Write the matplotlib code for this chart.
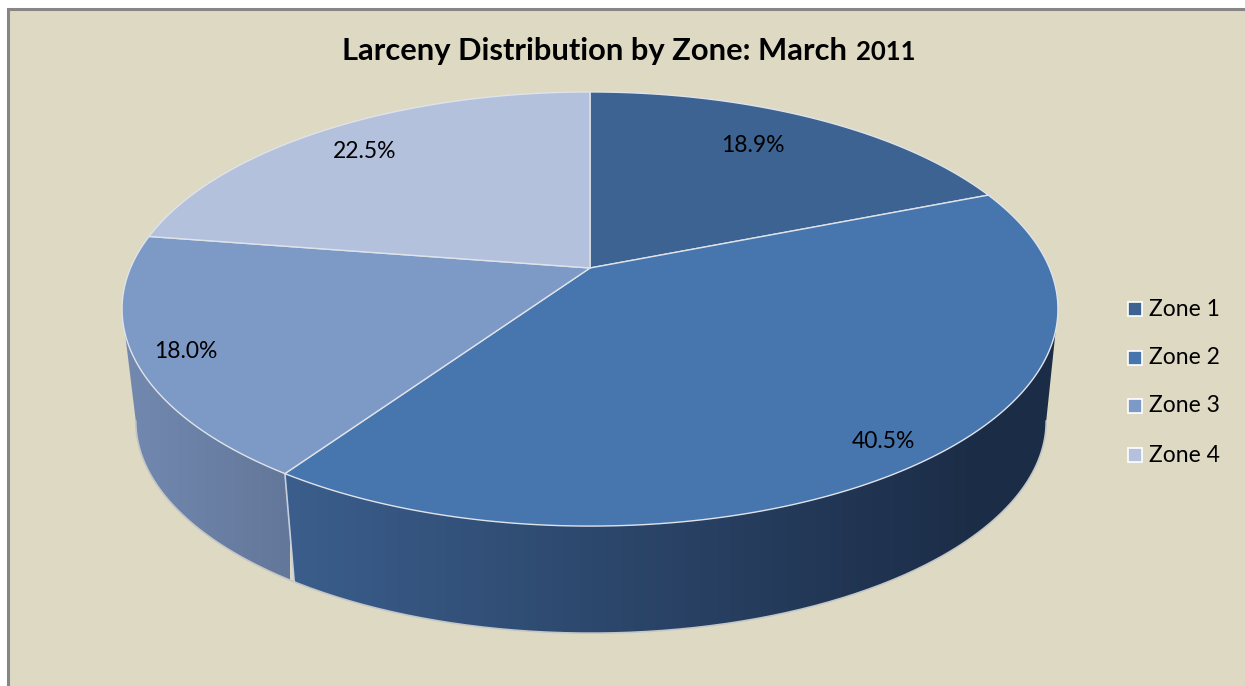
import numpy as np
import matplotlib
matplotlib.use('Agg')
import matplotlib.pyplot as plt
from matplotlib.patches import Polygon, Rectangle
from matplotlib.colors import LinearSegmentedColormap

plt.rcParams['font.family'] = ['Lato', 'Open Sans', 'DejaVu Sans']

# Data
zones = ['Zone 1', 'Zone 2', 'Zone 3', 'Zone 4']
values = [18.9, 40.5, 18.0, 22.5]
top_colors = ['#3c6391', '#4775ae', '#7d99c6', '#b3c1dc']
title_main = 'Larceny Distribution by Zone: March'
title_year = '2011'

BG = '#ddd9c3'
RIM = '#dfe3ea'

fig = plt.figure(figsize=(12.45, 6.86), dpi=100, facecolor='white')
ax = fig.add_axes([0, 0, 1, 1])
ax.set_xlim(0, 1245)
ax.set_ylim(686, 0)
ax.axis('off')

# chart area with grey frame
ax.add_patch(Rectangle((8, 9), 1240, 680, facecolor=BG, edgecolor='#868686', linewidth=2.2, zorder=0))

# perspective disc, angle clockwise from 12 o'clock
K = 0.189


def project(theta, cx, cy, bx, ay):
    u, v = np.sin(theta), np.cos(theta)
    d = 1 + K * v
    return cx + bx * u / d, cy - ay * v / d


def top_xy(theta):
    return project(theta, 590, 268, 459.5, 209.3)


def bottom_xy(theta):
    return project(theta, 591, 381, 447, 204.5)


fractions = np.array(values) / sum(values)
edges = np.concatenate([[0], np.cumsum(fractions)]) * 2 * np.pi

# where the rim is widest, the side wall ends there
right_t = np.arccos(-K)
left_t = 2 * np.pi - right_t


def wall(t0, t1, c_left, c_right, x0, x1, stop):
    th = np.linspace(t0, t1, 200)
    xt, yt = top_xy(th)
    xb, yb = bottom_xy(th)
    pts = np.vstack([np.column_stack([xt, yt]), np.column_stack([xb, yb])[::-1]])
    poly = Polygon(pts, closed=True, facecolor='none', edgecolor='none', zorder=1)
    ax.add_patch(poly)
    cmap = LinearSegmentedColormap.from_list('w', [(0, c_left), (stop, c_right), (1, c_right)])
    im = ax.imshow(np.linspace(0, 1, 256)[None, :], extent=[x0, x1, 686, 0], cmap=cmap,
                   aspect='auto', zorder=1.2)
    im.set_clip_path(poly)
    # pale silhouette
    ax.plot(xb, yb, color='#c4c6c6', lw=1.2, zorder=1.5)
    ax.set_xlim(0, 1245)
    ax.set_ylim(686, 0)


# side walls: zone 2 front, zone 3 left
wall(right_t, edges[2], '#3b5e8c', '#1b2c46', 286, 1060, 0.9)
wall(edges[2], left_t, '#7389b0', '#63779a', 122, 290, 1.0)
x_a, y_a = top_xy(edges[2])
x_b, y_b = bottom_xy(edges[2])
ax.plot([x_a, x_b], [y_a, y_b], color='#c7cfdd', lw=1.2, zorder=1.6)

# top faces
for i in range(len(values)):
    th = np.linspace(edges[i], edges[i + 1], 200)
    xs, ys = top_xy(th)
    pts = np.vstack([[590, 268], np.column_stack([xs, ys])])
    ax.add_patch(Polygon(pts, closed=True, facecolor=top_colors[i], edgecolor=RIM, linewidth=1.0,
                         joinstyle='round', zorder=2))

# data labels
label_pos = [(753, 145), (883, 441), (186, 351), (365, 152)]
for v, (lx, ly) in zip(values, label_pos):
    ax.text(lx, ly, f'{v:.1f}%', fontsize=16.5, ha='center', va='center', color='black', zorder=3)

# title, year smaller like the old style numerals
ax.text(342, 60, title_main, fontsize=22.2, fontweight='bold', ha='left', va='baseline', color='black')
ax.text(856, 60, title_year, fontsize=18.5, fontweight='bold', ha='left', va='baseline', color='black')

# legend
legend_y = [309, 358, 406, 455]
for name, col, ly in zip(zones, top_colors, legend_y):
    ax.add_patch(Rectangle((1128, ly - 7), 14, 14, facecolor=col, edgecolor='white', linewidth=1.2, zorder=3))
    ax.text(1149, ly, name, fontsize=16.5, ha='left', va='center', color='black')

fig.savefig('out.png', dpi=100, facecolor='white')
